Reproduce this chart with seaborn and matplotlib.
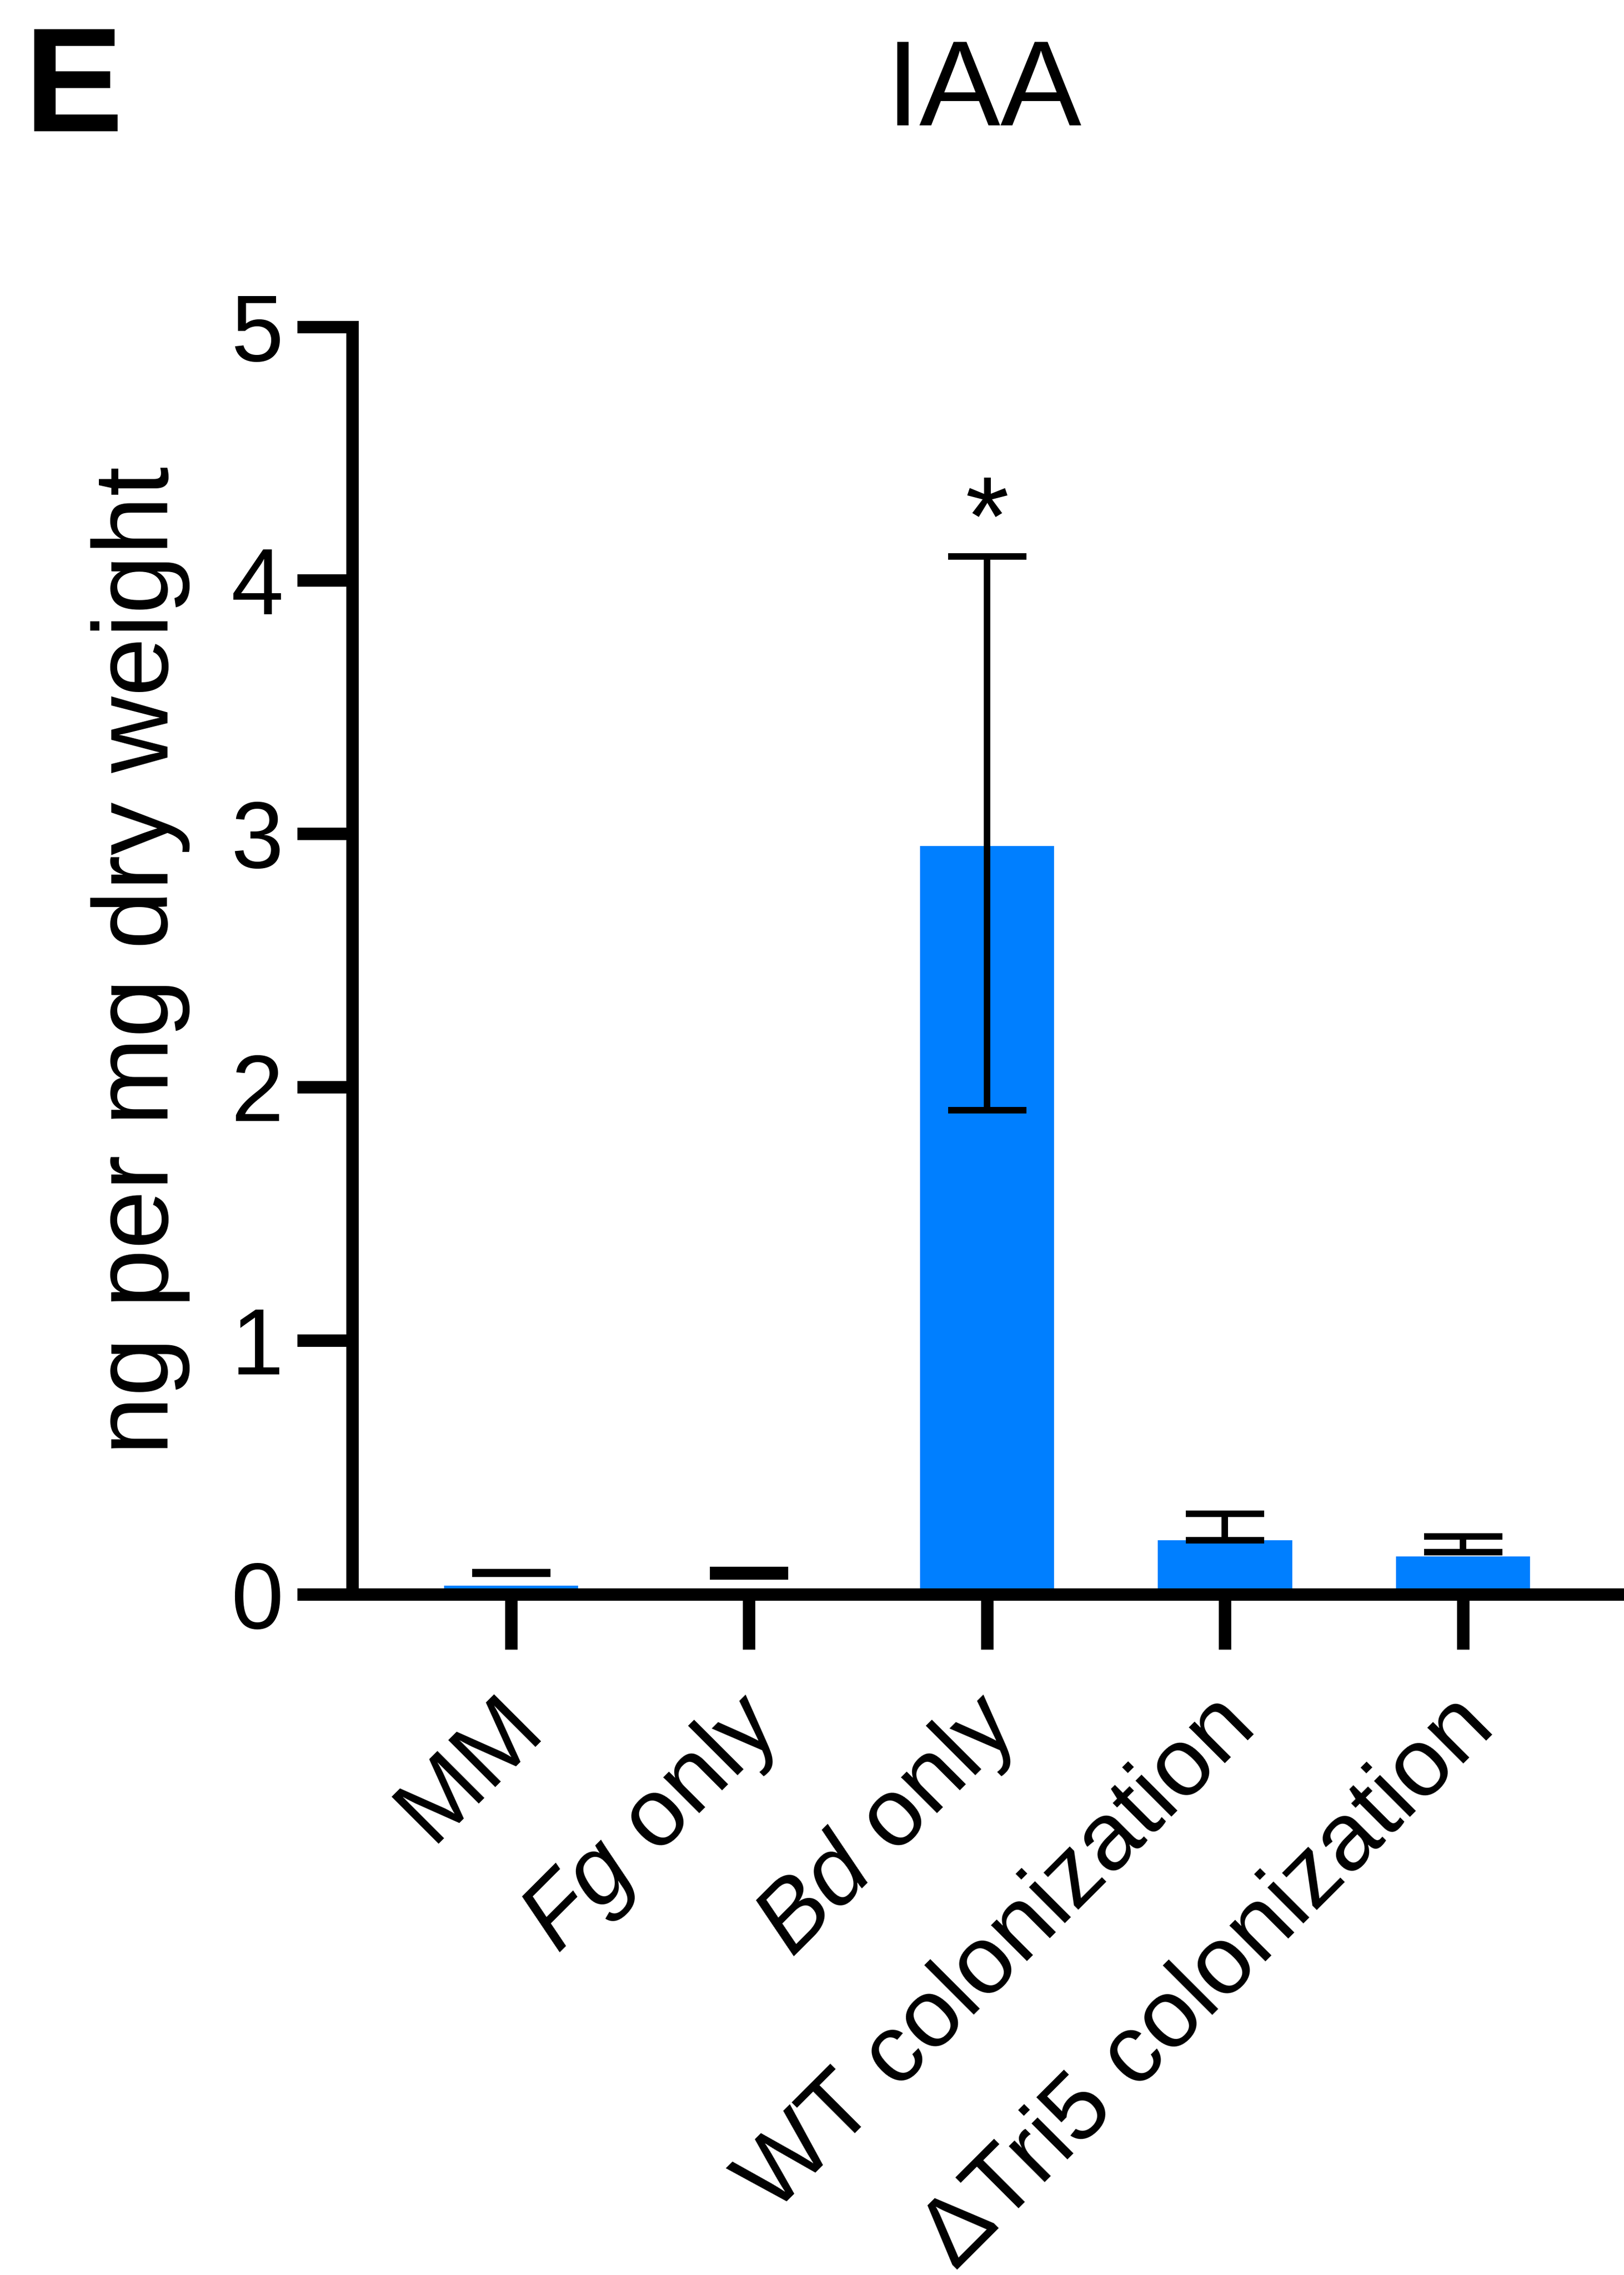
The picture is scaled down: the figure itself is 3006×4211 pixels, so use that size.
import matplotlib
matplotlib.use("Agg")
import matplotlib.pyplot as plt
import matplotlib.transforms as mtransforms
import numpy as np
import pandas as pd
import seaborn as sns

# ---- data ----
categories = ["MM", "Fg only", "Bd only", "WT colonization", "ΔTri5 colonization"]
tick_labels = ["MM", r"$\mathit{Fg}$ only", r"$\mathit{Bd}$ only",
               "WT colonization", "ΔTri5 colonization"]
bar_values = [0.033, 0.020, 2.952, 0.212, 0.148]
err_low = [0.079, 0.070, 1.909, 0.212, 0.165]
err_high = [0.087, 0.095, 4.094, 0.317, 0.228]
y_ticks = [0, 1, 2, 3, 4, 5]
title = "IAA"
y_label = "ng per mg dry weight"
panel = "E"
sig_label = "*"
sig_index = 2
sig_y = 4.10

sns.set_style("ticks")
plt.rcParams["font.family"] = ["Liberation Sans", "DejaVu Sans"]
plt.rcParams["mathtext.fontset"] = "custom"
plt.rcParams["mathtext.rm"] = "Liberation Sans"
plt.rcParams["mathtext.it"] = "Liberation Sans:italic"
plt.rcParams["mathtext.default"] = "regular"
for k in ["text.color", "axes.labelcolor", "xtick.color", "ytick.color",
          "axes.edgecolor"]:
    plt.rcParams[k] = "black"

W, H = 3006, 4211
DPI = 300
fig = plt.figure(figsize=(W / DPI, H / DPI), dpi=DPI)
left = 652 / W
bottom = (H - 2950.5) / H
top = (H - 605) / H
ax = fig.add_axes([left, bottom, 1 - left, top - bottom])

df = pd.DataFrame({"cat": categories, "val": bar_values})
sns.barplot(data=df, x="cat", y="val", color="#007FFF", saturation=1,
            width=0.565, errorbar=None, ax=ax, linewidth=0)

xs = np.arange(len(categories))
lo = np.array(err_low)
hi = np.array(err_high)
mid = (lo + hi) / 2
ax.errorbar(xs, mid, yerr=[mid - lo, hi - mid], fmt="none", ecolor="black",
            elinewidth=2.9, capsize=17.4, capthick=2.9, zorder=3)

ax.text(sig_index, sig_y, sig_label, ha="center", va="baseline",
        fontsize=50, color="black")

ax.set_xlim(-0.6674, 4.6765)
ax.set_ylim(0, 5)
ax.set_yticks(y_ticks)
ax.set_yticklabels([str(t) for t in y_ticks])
ax.set_xticks(xs)
ax.set_xticklabels(tick_labels)

lw = 23 / DPI * 72
for s in ["top", "right"]:
    ax.spines[s].set_visible(False)
for s in ["left", "bottom"]:
    ax.spines[s].set_linewidth(lw)
    ax.spines[s].set_color("black")

ax.tick_params(axis="both", direction="out", length=24.5, width=lw,
               color="black", labelcolor="black")
ax.tick_params(axis="y", labelsize=42, pad=6)
ax.tick_params(axis="x", labelsize=43, pad=28)

offset = mtransforms.ScaledTranslation(30 / DPI, 0, fig.dpi_scale_trans)
for lab in ax.get_xticklabels():
    lab.set_rotation(45)
    lab.set_ha("right")
    lab.set_va("center")
    lab.set_rotation_mode("anchor")
    lab.set_transform(lab.get_transform() + offset)

ax.set_xlabel("")
ax.set_ylabel(y_label, fontsize=47, color="black")
ax.yaxis.set_label_coords((352 - 652) / (W - 652), 0.5)

fig.text(1821 / W, 1 - 232 / H, title, ha="center", va="baseline",
         fontsize=54, color="black")
fig.text(45 / W, 1 - 243 / H, panel, ha="left", va="baseline", fontsize=66,
         fontweight="bold", color="black")

fig.savefig("out.png", dpi=DPI)
